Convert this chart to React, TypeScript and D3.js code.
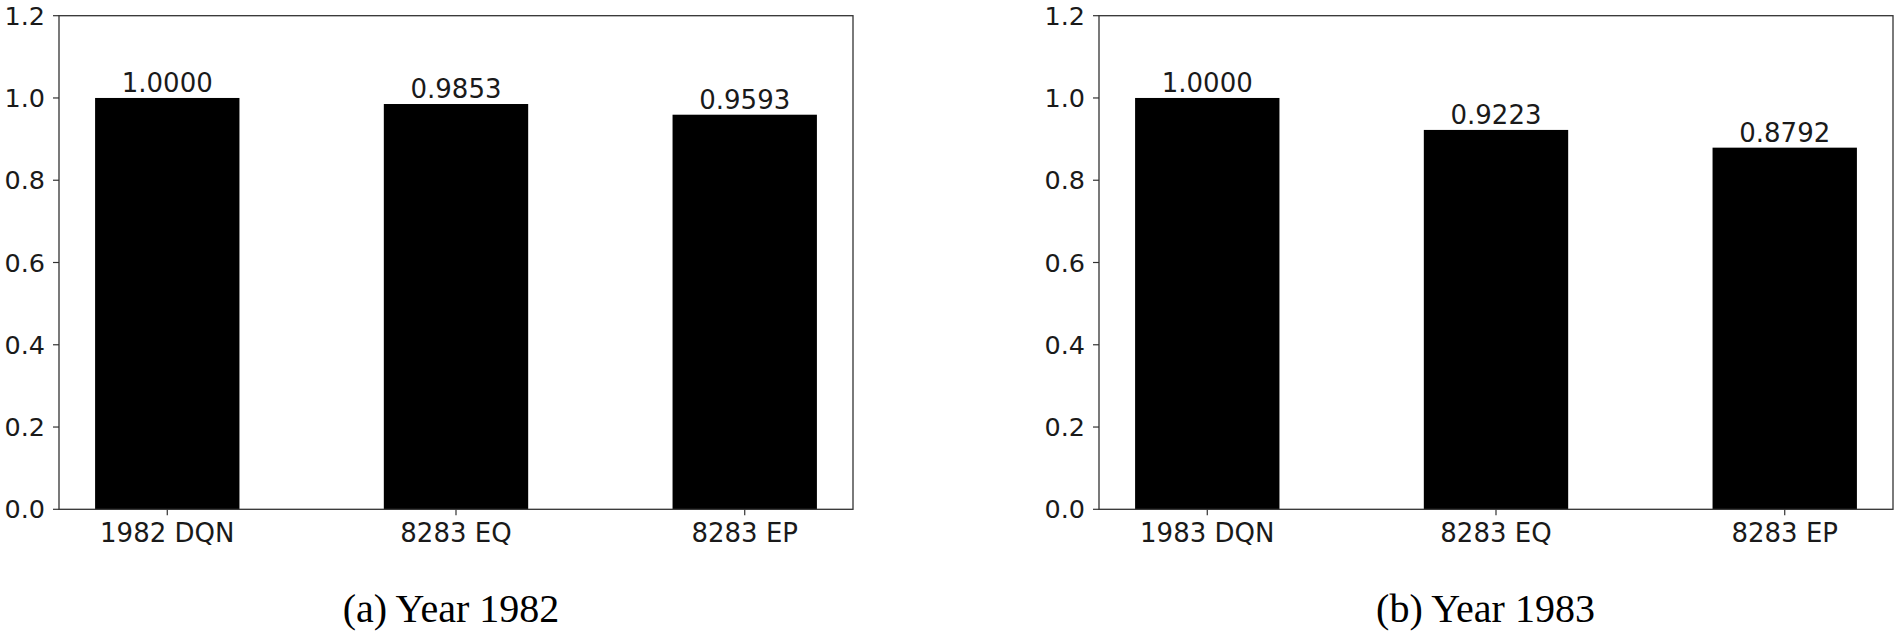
import React, { useEffect, useRef } from "react";
import * as d3 from "d3";

// reference data
const categories1982 = ["1982 DQN", "8283 EQ", "8283 EP"];
const values1982 = [1.0, 0.9853, 0.9593];
const categories1983 = ["1983 DQN", "8283 EQ", "8283 EP"];
const values1983 = [1.0, 0.9223, 0.8792];
const yTicks = [0, 0.2, 0.4, 0.6, 0.8, 1.0, 1.2];
const captions = ["(a) Year 1982", "(b) Year 1983"];

const App = () => {
  const ref = useRef<SVGSVGElement>(null);

  useEffect(() => {
    const svg = d3.select(ref.current);
    svg.selectAll("*").remove();

    const top = 15.7, bottom = 509.3, plotW = 794;
    const panels = [
      { x0: 59, cats: categories1982, vals: values1982, caption: captions[0], capX: 451 },
      { x0: 1099, cats: categories1983, vals: values1983, caption: captions[1], capX: 1485.5 },
    ];
    const sans = "'DejaVu Sans', sans-serif";
    const ink = "#1a1a1a";

    panels.forEach(p => {
      const g = svg.append("g").attr("transform", `translate(${p.x0},0)`);
      // matplotlib-like margins: index range -0.375 .. 2.375
      const x = d3.scaleLinear().domain([-0.375, p.cats.length - 1 + 0.375]).range([0, plotW]);
      const y = d3.scaleLinear().domain([0, 1.2]).range([bottom, top]);
      const bw = x(0.5) - x(0);

      g.selectAll("rect.bar")
        .data(p.vals)
        .enter()
        .append("rect")
        .attr("class", "bar")
        .attr("x", (_, i) => x(i) - bw / 2)
        .attr("width", bw)
        .attr("y", d => y(d))
        .attr("height", d => y(0) - y(d))
        .attr("fill", "#000");

      g.selectAll("text.val")
        .data(p.vals)
        .enter()
        .append("text")
        .attr("class", "val")
        .attr("x", (_, i) => x(i))
        .attr("y", d => y(d) - 6)
        .attr("text-anchor", "middle")
        .style("font-family", sans)
        .style("font-size", "26px")
        .style("fill", ink)
        .text(d => d.toFixed(4));

      // y axis
      const yAxis = g.append("g");
      yTicks.forEach(t => {
        yAxis.append("line")
          .attr("x1", -6).attr("x2", 0)
          .attr("y1", y(t)).attr("y2", y(t))
          .attr("stroke", "#333").attr("stroke-width", 1.2);
        yAxis.append("text")
          .attr("x", -14)
          .attr("y", y(t))
          .attr("dy", "0.36em")
          .attr("text-anchor", "end")
          .style("font-family", sans)
          .style("font-size", "25.5px")
          .style("fill", ink)
          .text(t.toFixed(1));
      });

      // x axis
      p.cats.forEach((c, i) => {
        g.append("line")
          .attr("x1", x(i)).attr("x2", x(i))
          .attr("y1", y(0)).attr("y2", y(0) + 6)
          .attr("stroke", "#333").attr("stroke-width", 1.2);
        g.append("text")
          .attr("x", x(i))
          .attr("y", 541.5)
          .attr("text-anchor", "middle")
          .style("font-family", sans)
          .style("font-size", "26px")
          .style("fill", ink)
          .text(c);
      });

      // frame
      g.append("rect")
        .attr("x", 0).attr("y", top)
        .attr("width", plotW).attr("height", bottom - top)
        .attr("fill", "none")
        .attr("stroke", "#333")
        .attr("stroke-width", 1.3);

      svg.append("text")
        .attr("x", p.capX)
        .attr("y", 621.5)
        .attr("text-anchor", "middle")
        .style("font-family", "'Liberation Serif', 'Times New Roman', serif")
        .style("font-size", "40px")
        .style("fill", "#000")
        .text(p.caption);
    });
  }, []);

  return (
    <svg
      ref={ref}
      width={1900}
      height={637}
      style={{ position: "absolute", left: 0, top: 0, background: "#fff" }}
    />
  );
};

export default App;
